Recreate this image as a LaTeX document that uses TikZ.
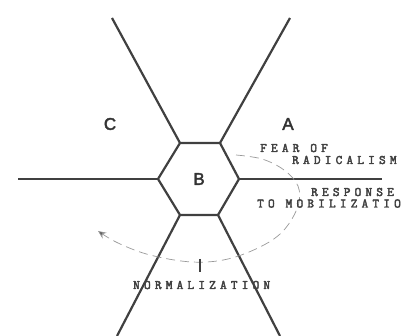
\documentclass[tikz,border=0pt]{standalone}
\usepackage{fontspec}
\setmainfont{Liberation Sans}
\newfontfamily\lbl[LetterSpace=32, FakeBold=3]{Latin Modern Mono}
\newfontfamily\rgn[FakeBold=2.5]{Liberation Sans}
\usetikzlibrary{arrows.meta}
\begin{document}
\begin{tikzpicture}[x=1pt,y=-1pt,
  wall/.style={line width=2.2pt, draw=black!75, line join=round},
  region/.style={font=\rgn\fontsize{17}{17}\selectfont, text=black!80, inner sep=0pt},
  captxt/.style={font=\lbl\fontsize{13}{13}\selectfont, text=black!75, inner sep=0pt, anchor=base west},
  flow/.style={draw=black!40, line width=0.7pt, dash pattern=on 9pt off 5pt, -{Stealth[length=8pt,width=7pt,fill=black!65]}}]
\useasboundingbox (0,0) rectangle (405,336);
% hexagon vertices
\coordinate (tl) at (180,143);
\coordinate (tr) at (220,143);
\coordinate (r) at (239,179);
\coordinate (br) at (218,215);
\coordinate (bl) at (180,215);
\coordinate (l) at (158,179);
% ray ends
\coordinate (etl) at (112,18);
\coordinate (etr) at (290,18);
\coordinate (er) at (382,179);
\coordinate (el) at (18,179);
\coordinate (ebl) at (117,336);
\coordinate (ebr) at (280,336);
\draw[wall] (tl) -- (tr) -- (r) -- (br) -- (bl) -- (l) -- cycle;
\draw[wall] (tl) -- (etl);
\draw[wall] (tr) -- (etr);
\draw[wall] (r) -- (er);
\draw[wall] (l) -- (el);
\draw[wall] (bl) -- (ebl);
\draw[wall] (br) -- (ebr);
% labels
\node[region] (C) at (110,124) {C};
\node[region] (A) at (288,124) {A};
\node[region] (B) at (199,179) {B};
% cycle arrow
\draw[flow] plot[smooth, tension=0.6] coordinates {(236,155) (262,159) (284,170) (298,186) (298,206) (284,230) (262,246) (228,259) (192,262) (150,255) (118,243) (98,231)};
\coordinate (tk1) at (200,259);
\coordinate (tk2) at (200,272);
\draw[black!75, line width=1.6pt] (tk1) -- (tk2);
\node[captxt] (f1) at (260,152) {FEAR OF};
\node[captxt] (f2) at (292,164) {RADICALISM};
\node[captxt] (r1) at (311,196) {RESPONSE};
\node[captxt] (r2) at (257,207.5) {TO MOBILIZATIO};
\node[captxt] (n1) at (133,289) {NORMALIZATION};
\end{tikzpicture}
\end{document}
